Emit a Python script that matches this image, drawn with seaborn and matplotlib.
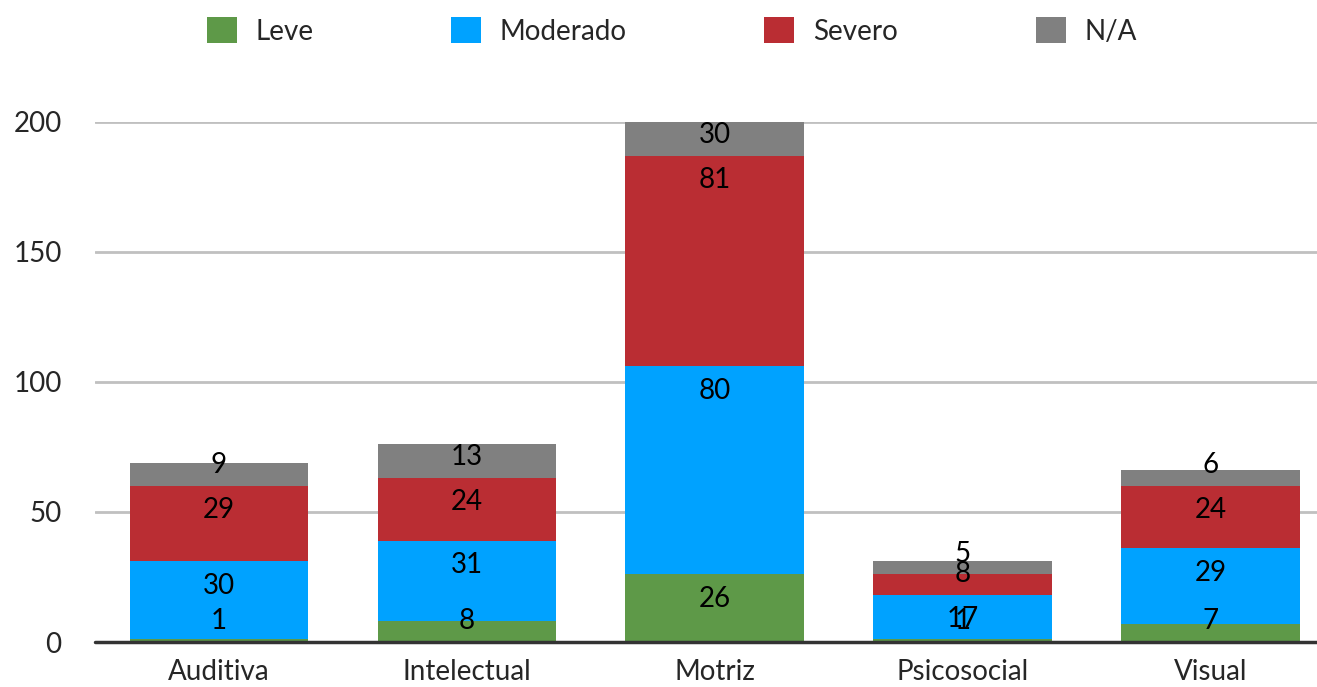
import numpy as np
import pandas as pd
import matplotlib.pyplot as plt
from matplotlib.patches import Patch
import seaborn as sns

# ============================
#       Data
# ============================
categorias = ["Auditiva", "Intelectual", "Motriz", "Psicosocial", "Visual"]
leve = [1, 8, 26, 1, 7]
moderado = [30, 31, 80, 17, 29]
severo = [29, 24, 81, 8, 24]
na = [9, 13, 30, 5, 6]

niveles = ["Leve", "Moderado", "Severo", "N/A"]
colores = ["#5e9948", "#00a2ff", "#ba2d33", "#808080"]

y_max = 200
y_ticks = [0, 50, 100, 150, 200]

df = pd.DataFrame({"Leve": leve, "Moderado": moderado, "Severo": severo, "N/A": na},
                  index=categorias)
cum = df.cumsum(axis=1)

# ============================
#       Style
# ============================
sns.set_theme(style="white")
plt.rcParams['font.family'] = ['Lato', 'DejaVu Sans']
fs = 20

fig = plt.figure(figsize=(13.17, 6.87), dpi=100)
ax = fig.add_axes([0.0721, 0.0655, 0.928, 0.757])

# stacked bars: draw cumulative totals back to front
for nivel, color in reversed(list(zip(niveles, colores))):
    sns.barplot(x=categorias, y=cum[nivel].values, color=color, width=0.72,
                saturation=1, linewidth=0, ax=ax)

# value labels (inside near the top of each segment, lifted for thin ones)
for i, cat in enumerate(categorias):
    bottom = 0
    for nivel in niveles:
        val = df.loc[cat, nivel]
        top = bottom + val
        y = max(bottom + 8, min(top, y_max) - 9.3)
        ax.text(i, y, str(val), ha="center", va="center", fontsize=fs, color="black", zorder=6)
        bottom = top

ax.set_ylim(0, y_max)
ax.set_xlim(-0.5, 4.43)
ax.set_yticks(y_ticks)
ax.set_axisbelow(True)
ax.yaxis.grid(True, color="#c0c0c0", linewidth=2)
ax.xaxis.grid(False)
ax.axhline(0, color="#333333", linewidth=2.5, zorder=5, clip_on=False)
for s in ax.spines.values():
    s.set_visible(False)
ax.tick_params(axis="y", length=0, pad=24, labelsize=fs)
ax.tick_params(axis="x", length=0, pad=12, labelsize=fs)
ax.set_xlabel("")
ax.set_ylabel("")

handles = [Patch(facecolor=c, edgecolor="none", label=n) for n, c in zip(niveles, colores)]
fig.legend(handles=handles, loc="center", bbox_to_anchor=(0.51, 0.955), ncol=4,
           frameon=False, fontsize=fs, handlelength=1.08, handleheight=1.08,
           handletextpad=0.68, columnspacing=4.95)

fig.savefig("out.png", dpi=100)
